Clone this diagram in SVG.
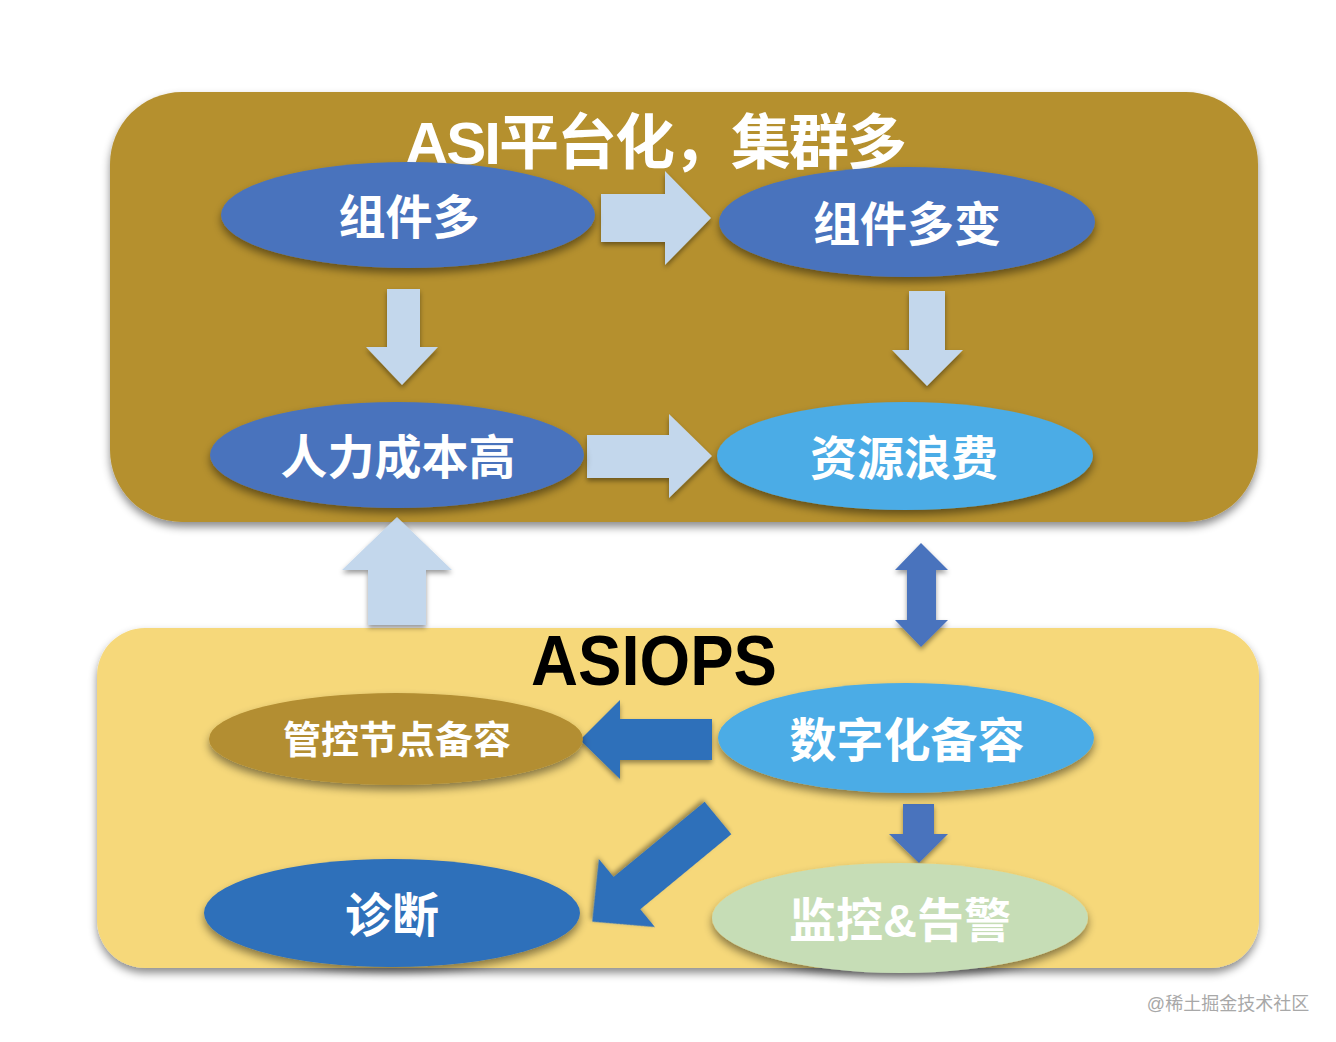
<svg xmlns="http://www.w3.org/2000/svg" width="1336" height="1042" viewBox="0 0 1336 1042">
<defs>
<filter id="sh" x="-20%" y="-20%" width="140%" height="150%">
<feDropShadow dx="0" dy="5" stdDeviation="4" flood-color="#000" flood-opacity="0.45"/>
</filter>
<filter id="shs" x="-20%" y="-20%" width="140%" height="150%">
<feDropShadow dx="0" dy="3" stdDeviation="2.5" flood-color="#000" flood-opacity="0.4"/>
</filter>
</defs>
<style>
.lbl{font-family:"Liberation Sans","Noto Sans CJK SC",sans-serif;font-weight:bold;fill:#fff;text-anchor:middle}
.blue{fill:#4A73BD}
.sky{fill:#4BACE6}
.light{fill:#C3D7EC}
.dark{fill:#2E6FBA}
</style>
<rect width="1336" height="1042" fill="#fff"/>

<g id="top-box">
<rect x="110" y="92" width="1148" height="430" rx="72" ry="72" fill="#B5902F" filter="url(#sh)"/>
<text class="lbl" x="656" y="164" font-size="60" textLength="502" lengthAdjust="spacing">ASI平台化，集群多</text>
</g>
<g id="bottom-box">
<rect x="97" y="628" width="1162" height="340" rx="48" ry="48" fill="#F6D87A" filter="url(#sh)"/>
<text x="654" y="685" font-family="Liberation Sans, sans-serif" font-weight="bold" font-size="70" fill="#000" text-anchor="middle" textLength="246" lengthAdjust="spacingAndGlyphs">ASIOPS</text>
</g>

<g id="connectors">
<path class="light" filter="url(#shs)" d="M601,194 H665 V171 L711,218 L665,265 V242 H601 Z"/>
<path class="light" filter="url(#shs)" d="M587,435 H669 V414 L712,456 L669,498 V478 H587 Z"/>
<path class="light" filter="url(#shs)" d="M387,289 H420 V347 H438 L402,385 L366,347 H387 Z"/>
<path class="light" filter="url(#shs)" d="M909,291 H945 V350 H963 L927,386 L892,350 H909 Z"/>
<path class="light" filter="url(#shs)" d="M368,625 V570 H342 L397,517 L452,570 H426 V625 Z"/>
<path class="blue" filter="url(#shs)" d="M921,543 L948,570 H936 V620 H948 L921,647 L895,620 H907 V570 H895 Z"/>
<path class="dark" filter="url(#shs)" d="M712,719 V760 H620 V779 L580,740 L620,700 V719 Z"/>
<path class="dark" filter="url(#shs)" transform="translate(718,818) rotate(140.5)" d="M0,-21 H118 V-44 L163,0 L118,44 V21 H0 Z"/>
<path class="blue" filter="url(#shs)" d="M903,804 H934 V834 H948 L919,863 L889,834 H903 Z"/>
</g>

<g id="n-zujianduo">
<ellipse cx="408" cy="215" rx="187" ry="53" class="blue" filter="url(#sh)"/>
<text class="lbl" x="409" y="234" font-size="47">组件多</text>
</g>
<g id="n-zujianduobian">
<ellipse cx="907" cy="222" rx="188" ry="55" class="blue" filter="url(#sh)"/>
<text class="lbl" x="907" y="241" font-size="47">组件多变</text>
</g>
<g id="n-renli">
<ellipse cx="397" cy="455" rx="187" ry="53" class="blue" filter="url(#sh)"/>
<text class="lbl" x="398" y="474" font-size="47">人力成本高</text>
</g>
<g id="n-ziyuan">
<ellipse cx="905" cy="456" rx="188" ry="54" class="sky" filter="url(#sh)"/>
<text class="lbl" x="904" y="475" font-size="47">资源浪费</text>
</g>
<g id="n-guankong">
<ellipse cx="396" cy="739" rx="187" ry="46" fill="#B38E32" filter="url(#sh)"/>
<text class="lbl" x="397" y="753" font-size="38">管控节点备容</text>
</g>
<g id="n-shuzihua">
<ellipse cx="906" cy="738" rx="188" ry="55" class="sky" filter="url(#sh)"/>
<text class="lbl" x="907" y="757" font-size="47">数字化备容</text>
</g>
<g id="n-zhenduan">
<ellipse cx="392" cy="913" rx="188" ry="54" class="dark" filter="url(#sh)"/>
<text class="lbl" x="392" y="932" font-size="47">诊断</text>
</g>
<g id="n-jiankong">
<ellipse cx="900" cy="918" rx="188" ry="55" fill="#C6DDB6" filter="url(#sh)"/>
<text class="lbl" x="900" y="937" font-size="47">监控&amp;告警</text>
</g>

<text x="1228" y="1010" font-family="Liberation Sans, Noto Sans CJK SC, sans-serif" font-size="18" fill="#A8A8A8" text-anchor="middle">@稀土掘金技术社区</text>
</svg>
